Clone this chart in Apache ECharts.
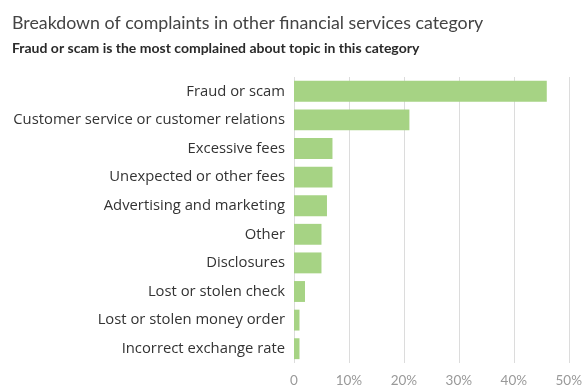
<!DOCTYPE html>
<html>
<head>
<meta charset="utf-8">
<script src="https://cdn.jsdelivr.net/npm/echarts@6/dist/echarts.min.js"></script>
<style>
  html, body { margin: 0; padding: 0; background: #fff; }
  #chart { width: 585px; height: 391px; }
</style>
</head>
<body>
<div id="chart"></div>
<script>
// Complaint topics, top to bottom
const categories = [
  'Fraud or scam',
  'Customer service or customer relations',
  'Excessive fees',
  'Unexpected or other fees',
  'Advertising and marketing',
  'Other',
  'Disclosures',
  'Lost or stolen check',
  'Lost or stolen money order',
  'Incorrect exchange rate'
];
// Share of complaints in percent
const shares = [46, 21, 7, 7, 6, 5, 5, 2, 1, 1];
const xTicks = [0, 10, 20, 30, 40, 50];

const chart = echarts.init(document.getElementById('chart'));
chart.setOption({
  animation: false,
  textStyle: { fontFamily: 'Lato' },
  title: [
    {
      text: 'Breakdown of complaints in other financial services category',
      left: 7, top: 9,
      textStyle: { fontFamily: 'Lato', fontSize: 17.8, fontWeight: 'normal', color: '#444' }
    },
    {
      text: 'Fraud or scam is the most complained about topic in this category',
      left: 7, top: 36,
      textStyle: { fontFamily: 'Lato', fontSize: 14, fontWeight: 'bold', color: '#2a2a2a' }
    }
  ],
  grid: { left: 294, right: 14, top: 77, bottom: 28, containLabel: false },
  xAxis: {
    type: 'value',
    min: xTicks[0],
    max: xTicks[xTicks.length - 1],
    interval: 10,
    axisLine: { show: false },
    axisTick: { show: false },
    splitLine: { show: true, lineStyle: { color: '#dcdcdc', width: 1 } },
    axisLabel: {
      color: '#999',
      fontSize: 13.5,
      margin: 11,
      formatter: v => (v === 0 ? '0' : v + '%')
    }
  },
  yAxis: {
    type: 'category',
    data: categories,
    inverse: true,
    axisLine: { show: false },
    axisTick: { show: false },
    axisLabel: { color: '#333', fontSize: 14.8, fontFamily: 'Open Sans', margin: 9 }
  },
  series: [{
    type: 'bar',
    data: shares,
    barCategoryGap: '27%',
    itemStyle: { color: '#a6d384' }
  }]
});
</script>
</body>
</html>
